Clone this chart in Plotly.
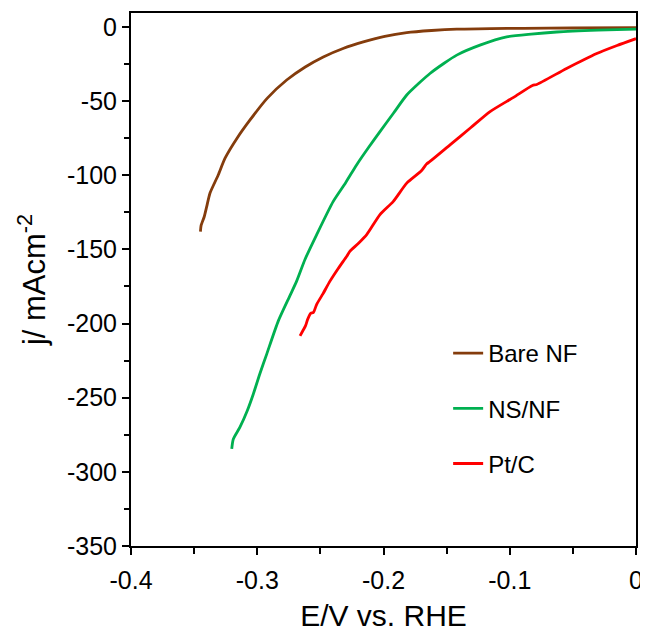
import plotly.graph_objects as go

# ----------------------------------------------------------------------------------
# Dados (E em V vs. RHE, j em mA cm-2)
bare_nf_e = [-0.3450, -0.3445, -0.3420, -0.3400, -0.3374, -0.3310, -0.3255, -0.3160,
             -0.3057, -0.2920, -0.2767, -0.2620, -0.2477, -0.2320, -0.2160, -0.1990,
             -0.1816, -0.1620, -0.1420, -0.1150, -0.0895, -0.0500, 0.0]
bare_nf_j = [-138.0, -134.0, -128.0, -121.0, -112.0, -100.0, -88.5, -75.0,
             -62.7, -48.0, -35.8, -27.0, -20.2, -14.5, -10.1, -6.3,
             -3.8, -2.4, -1.5, -1.1, -0.9, -0.7, -0.5]

ns_nf_e = [-0.3202, -0.3190, -0.3137, -0.3080, -0.3031, -0.2980, -0.2925, -0.2833,
           -0.2740, -0.2688, -0.2622, -0.2529, -0.2398, -0.2300, -0.2212, -0.2120,
           -0.2028, -0.1920, -0.1816, -0.1720, -0.1632, -0.1520, -0.1420, -0.1236,
           -0.1024, -0.0830, -0.0628, -0.0300, 0.0]
ns_nf_j = [-284.5, -278.0, -269.9, -259.0, -247.5, -234.0, -220.6, -198.2,
           -181.0, -171.4, -156.8, -140.0, -117.6, -105.0, -92.9, -81.5,
           -70.6, -58.0, -45.9, -38.0, -31.4, -24.5, -19.0, -12.3,
           -6.7, -4.8, -3.4, -2.2, -1.5]

pt_c_e = [-0.2661, -0.2640, -0.2618, -0.2600, -0.2575, -0.2555, -0.2529, -0.2480,
          -0.2424, -0.2360, -0.2291, -0.2265, -0.2200, -0.2133, -0.2028, -0.1922,
          -0.1816, -0.1700, -0.1660, -0.1632, -0.1473, -0.1310, -0.1156, -0.0970,
          -0.0820, -0.0786, -0.0550, -0.0311, -0.0150, 0.0]
pt_c_j = [-208.3, -205.0, -201.6, -197.0, -193.0, -192.5, -187.0, -180.0,
          -171.4, -163.0, -154.6, -151.2, -146.0, -140.0, -126.5, -117.6,
          -105.3, -97.0, -92.5, -90.7, -79.5, -68.0, -57.1, -47.5,
          -39.5, -38.8, -28.0, -17.9, -12.5, -7.9]

x_tick_vals = [-0.4, -0.3, -0.2, -0.1, 0.0]
x_tick_text = ['-0.4', '-0.3', '-0.2', '-0.1', '0']
x_minor_vals = [-0.35, -0.25, -0.15, -0.05]
y_tick_vals = [-350, -300, -250, -200, -150, -100, -50, 0]
y_tick_text = ['-350', '-300', '-250', '-200', '-150', '-100', '-50', '0']
y_minor_vals = [-325, -275, -225, -175, -125, -75, -25]
# ----------------------------------------------------------------------------------

series = [
    ('Bare NF', bare_nf_e, bare_nf_j, '#843C0C'),
    ('NS/NF', ns_nf_e, ns_nf_j, '#00B050'),
    ('Pt/C', pt_c_e, pt_c_j, '#FF0000'),
]

fig = go.Figure()
for i, (nome, e, j, cor) in enumerate(series):
    fig.add_trace(go.Scatter(
        x=e, y=j, mode='lines', name=nome,
        line=dict(color=cor, width=2.8, shape='spline', smoothing=0.6),
        legendgroup=str(i)
    ))

fonte = 'Liberation Sans, Arial, sans-serif'
eixo = dict(
    showgrid=False, zeroline=False,
    showline=True, linecolor='black', linewidth=2, mirror=True,
    ticks='outside', ticklen=7, tickwidth=2, tickcolor='black',
    tickfont=dict(size=25, color='black', family=fonte),
)

# a página tem 8px de margem no body, por isso l/t menores
fig.update_layout(
    width=648, height=635,
    margin=dict(l=123, r=20, t=3, b=97),
    plot_bgcolor='white', paper_bgcolor='white',
    font=dict(family=fonte, color='black'),
    legend=dict(
        x=0.628, y=0.258, xanchor='left', yanchor='middle',
        font=dict(size=24, color='black'),
        tracegroupgap=21, bgcolor='rgba(0,0,0,0)'
    ),
    xaxis=dict(
        eixo, range=[-0.4, 0],
        tickmode='array', tickvals=x_tick_vals, ticktext=x_tick_text,
        ticklabelstandoff=4,
        minor=dict(tickvals=x_minor_vals, ticks='outside', ticklen=6, tickwidth=2, tickcolor='black'),
        title=dict(text='E/V vs. RHE', font=dict(size=30), standoff=12)
    ),
    yaxis=dict(
        eixo, range=[-350, 9.4],
        tickmode='array', tickvals=y_tick_vals, ticktext=y_tick_text,
        minor=dict(tickvals=y_minor_vals, ticks='outside', ticklen=5, tickwidth=2, tickcolor='black'),
        title=dict(text='j/ mAcm<sup>-2</sup>', font=dict(size=31), standoff=12)
    ),
)

fig.write_html('out.html')
